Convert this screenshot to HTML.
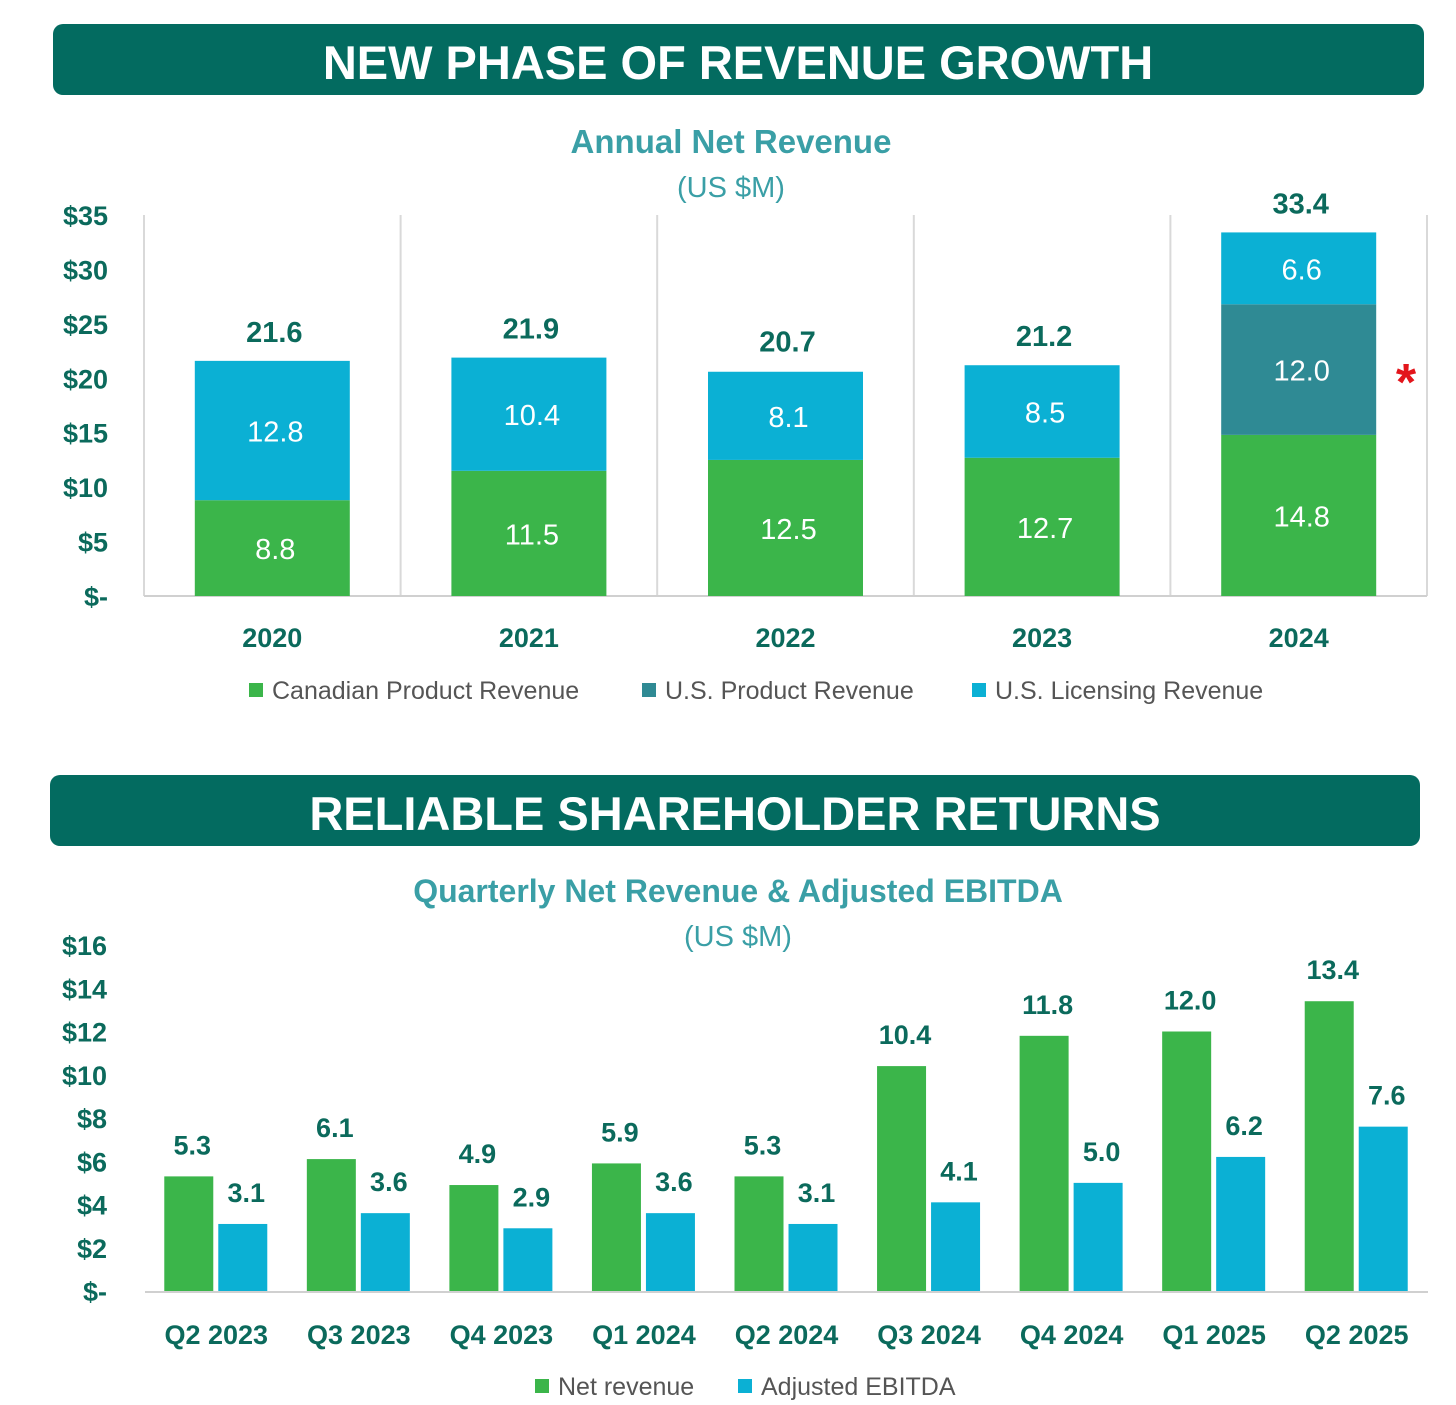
<!DOCTYPE html>
<html><head><meta charset="utf-8">
<style>
html,body{margin:0;padding:0;background:#fff;}
svg{display:block;font-family:"Liberation Sans",sans-serif;}
</style></head>
<body>
<svg id="s" width="1456" height="1405" viewBox="0 0 1456 1405">
<rect x="53" y="24" width="1371" height="71" rx="10" fill="#036b60"/>
<text x="738" y="79" text-anchor="middle" font-size="47" font-weight="bold" fill="#fff">NEW PHASE OF REVENUE GROWTH</text>
<text x="731" y="153" text-anchor="middle" font-size="33" font-weight="bold" fill="#3a9fa6">Annual Net Revenue</text>
<text x="731" y="197" text-anchor="middle" font-size="29" fill="#3a9fa6">(US $M)</text>
<g id="c1"></g>
<rect x="50" y="775" width="1370" height="71" rx="10" fill="#036b60"/>
<text x="735" y="830" text-anchor="middle" font-size="47" font-weight="bold" fill="#fff">RELIABLE SHAREHOLDER RETURNS</text>
<text x="738" y="902" text-anchor="middle" font-size="32" font-weight="bold" fill="#3a9fa6">Quarterly Net Revenue &amp; Adjusted EBITDA</text>
<text x="738" y="946" text-anchor="middle" font-size="29" fill="#3a9fa6">(US $M)</text>
<g id="c2"></g>
</svg>
<script>
const years = ["2020","2021","2022","2023","2024"];
const canadian = [8.8,11.5,12.5,12.7,14.8];
const usProduct = [0,0,0,0,12.0];
const usLicensing = [12.8,10.4,8.1,8.5,6.6];
const totals = [21.6,21.9,20.7,21.2,33.4];
const yTicks1 = [0,5,10,15,20,25,30,35];

const quarters = ["Q2 2023","Q3 2023","Q4 2023","Q1 2024","Q2 2024","Q3 2024","Q4 2024","Q1 2025","Q2 2025"];
const netRevenue = [5.3,6.1,4.9,5.9,5.3,10.4,11.8,12.0,13.4];
const ebitda = [3.1,3.6,2.9,3.6,3.1,4.1,5.0,6.2,7.6];
const yTicks2 = [0,2,4,6,8,10,12,14,16];

const NS="http://www.w3.org/2000/svg";
const GREEN="#3bb54a", BLUE="#0bb0d4", TEAL="#2f8a94", DARK="#0b6a5c";
function mk(parent,tag,attrs,text){const e=document.createElementNS(NS,tag);for(const k in attrs)e.setAttribute(k,attrs[k]);if(text!==undefined)e.textContent=text;parent.appendChild(e);return e;}
const fmt=v=>v===0?"$-":"$"+v;

// Chart 1
const c1=document.getElementById("c1");
const x0=144,x1=1427,yb=596,yt=215,ymax=35;
const y1=v=>yb-(v/ymax)*(yb-yt);
const cw=(x1-x0)/years.length;
const cx1=i=>x0+cw*(i+0.5);
for(let i=0;i<=years.length;i++){
  const l=mk(c1,"line",{x1:x0+cw*i,x2:x0+cw*i,y1:yt,y2:yb,stroke:"#d9d9d9","stroke-width":2});
  
  
}
const ax1=mk(c1,"line",{x1:x0,x2:x1,y1:yb,y2:yb,stroke:"#d0d0d0","stroke-width":2});


yTicks1.forEach(v=>{
  const t=mk(c1,"text",{x:108,y:y1(v)+10,"text-anchor":"end","font-size":27,"font-weight":"bold",fill:DARK},fmt(v));
  
  
});
const bw1=155;
years.forEach((yr,i)=>{
  const cx=cx1(i);
  const segs=[[canadian[i],GREEN,'canadian-product'],[usProduct[i],TEAL,'us-product'],[usLicensing[i],BLUE,'us-licensing']];
  let base=0;
  segs.forEach(([v,c,n])=>{
    if(v<=0)return;
    const r=mk(c1,"rect",{x:cx-bw1/2,y:y1(base+v),width:bw1,height:y1(base)-y1(base+v),fill:c});
    
    
    const t=mk(c1,"text",{x:cx+3,y:(y1(base)+y1(base+v))/2+11,"text-anchor":"middle","font-size":29,fill:"#fff"},v.toFixed(1));
    
    
    base+=v;
  });
  const tt=mk(c1,"text",{x:cx+2,y:y1(totals[i])-19,"text-anchor":"middle","font-size":29,"font-weight":"bold",fill:DARK},totals[i].toFixed(1));
  
  
  const xl=mk(c1,"text",{x:cx,y:647,"text-anchor":"middle","font-size":27,"font-weight":"bold",fill:DARK},yr);
  
  
});
const star=mk(c1,"text",{x:1406,y:400,"text-anchor":"middle","font-size":52,"font-weight":"bold",fill:"#e3151b"},"*");


const leg1=[["Canadian Product Revenue",GREEN,249],["U.S. Product Revenue",TEAL,642],["U.S. Licensing Revenue",BLUE,972]];
leg1.forEach(([n,c,x])=>{
  const r=mk(c1,"rect",{x:x,y:683,width:14,height:14,fill:c});
  
  
  const t=mk(c1,"text",{x:x+23,y:699,"font-size":25,fill:"#555"},n);
  
  
});

// Chart 2
const c2=document.getElementById("c2");
const qx0=145,qx1=1428,qb=1291,qt=945,qmax=16;
const y2=v=>qb-(v/qmax)*(qb-qt);
const qw=(qx1-qx0)/quarters.length;
yTicks2.forEach(v=>{
  const t=mk(c2,"text",{x:107,y:y2(v)+10,"text-anchor":"end","font-size":27,"font-weight":"bold",fill:DARK},fmt(v));
  
  
});
quarters.forEach((q,i)=>{
  const cx=qx0+qw*(i+0.5);
  [[netRevenue[i],GREEN,cx-52,'net-revenue'],[ebitda[i],BLUE,cx+2,'adjusted-ebitda']].forEach(([v,c,x,n])=>{
    const r=mk(c2,"rect",{x:x,y:y2(v),width:49,height:qb-y2(v),fill:c});
    
    
    const t=mk(c2,"text",{x:x+28,y:y2(v)-22,"text-anchor":"middle","font-size":27,"font-weight":"bold",fill:DARK},v.toFixed(1));
    
    
  });
  const xl=mk(c2,"text",{x:cx,y:1344,"text-anchor":"middle","font-size":27,"font-weight":"bold",fill:DARK},q);
  
  
});
const ax2=mk(c2,"line",{x1:qx0,x2:qx1,y1:qb+1,y2:qb+1,stroke:"#d0d0d0","stroke-width":2});


const leg2=[["Net revenue",GREEN,535],["Adjusted EBITDA",BLUE,738]];
leg2.forEach(([n,c,x])=>{
  const r=mk(c2,"rect",{x:x,y:1379,width:14,height:14,fill:c});
  
  
  const t=mk(c2,"text",{x:x+23,y:1395,"font-size":25,fill:"#555"},n);
  
  
});
</script>
</body></html>
